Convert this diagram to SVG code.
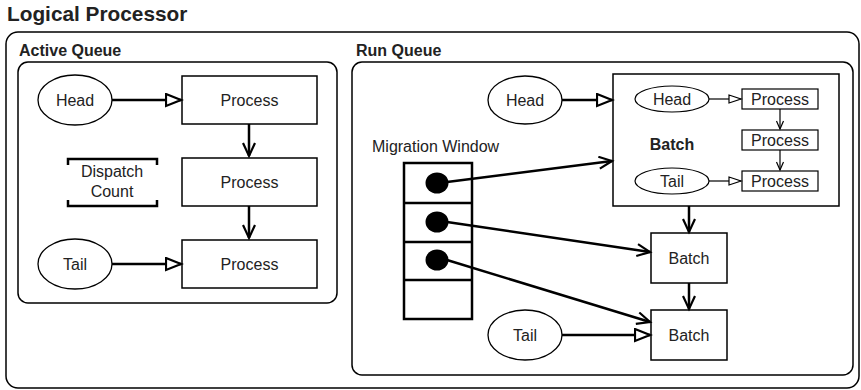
<svg xmlns="http://www.w3.org/2000/svg" width="861" height="390" viewBox="0 0 861 390">
<style>
text{font-family:"Liberation Sans",Arial,sans-serif;font-size:16px;fill:#222}
.b{font-weight:bold}
.c{text-anchor:middle}
.box{fill:#fff;stroke:#000;stroke-width:1.5}
.frame{fill:none;stroke:#000;stroke-width:1.5}
.ell{fill:#fff;stroke:#000;stroke-width:1.3}
.thin{fill:#fff;stroke:#000;stroke-width:1.2}
.a{fill:none;stroke:#000;stroke-width:2.5}
.s{fill:none;stroke:#000;stroke-width:1.2}
.mw{fill:#fff;stroke:#000;stroke-width:2.5}
</style>
<defs>
<marker id="tri" markerUnits="userSpaceOnUse" markerWidth="20" markerHeight="16" refX="16" refY="7" orient="auto"><path d="M1,1 L16,7 L1,13 z" fill="#fff" stroke="#000" stroke-width="2.2"/></marker>
<marker id="stick" markerUnits="userSpaceOnUse" markerWidth="18" markerHeight="16" refX="14" refY="7" orient="auto"><path d="M1,1 L14,7 L1,13" fill="none" stroke="#000" stroke-width="2.2"/></marker>
<marker id="tris" markerUnits="userSpaceOnUse" markerWidth="16" markerHeight="12" refX="13" refY="5" orient="auto"><path d="M1,1 L13,5 L1,9 z" fill="#fff" stroke="#000" stroke-width="1.2"/></marker>
<marker id="sticks" markerUnits="userSpaceOnUse" markerWidth="12" markerHeight="10" refX="9" refY="4.5" orient="auto"><path d="M1,1 L9,4.5 L1,8" fill="none" stroke="#000" stroke-width="1.2"/></marker>
</defs>
<text x="7" y="21" class="b" style="font-size:20.8px">Logical Processor</text>
<g id="logical-processor"><rect x="6" y="32" width="853" height="356" rx="12" class="frame"/></g>
<g id="active-queue">
<text x="19" y="56" class="b">Active Queue</text>
<rect x="18" y="62" width="319" height="241" rx="10" class="frame"/>
</g>
<g id="aq-head"><ellipse cx="75" cy="100" rx="37" ry="25" class="ell"/><text x="75" y="105.6" class="c">Head</text></g>
<g id="aq-process1"><rect x="182" y="76" width="135" height="48" class="box"/><text x="249.5" y="105.6" class="c">Process</text></g>
<g id="aq-process2"><rect x="182" y="158" width="135" height="48" class="box"/><text x="249.5" y="187.6" class="c">Process</text></g>
<g id="aq-process3"><rect x="182" y="240" width="135" height="48" class="box"/><text x="249.5" y="269.6" class="c">Process</text></g>
<g id="aq-tail"><ellipse cx="75" cy="264" rx="37" ry="25" class="ell"/><text x="75" y="269.6" class="c">Tail</text></g>
<g id="dispatch-count">
<path d="M68,165 V159 H157 V165 M68,200 V206 H157 V200" fill="none" stroke="#000" stroke-width="2.5"/>
<text x="112" y="177" class="c">Dispatch</text>
<text x="112" y="197" class="c">Count</text>
</g>
<g id="run-queue">
<text x="356" y="56" class="b">Run Queue</text>
<rect x="352" y="62" width="501" height="313" rx="10" class="frame"/>
</g>
<g id="rq-head"><ellipse cx="525" cy="100" rx="37" ry="24" class="ell"/><text x="525" y="105.6" class="c">Head</text></g>
<g id="batch-main">
<rect x="613" y="74" width="226" height="132" class="box"/>
<text x="672" y="149.6" class="b c">Batch</text>
</g>
<g id="b-head"><ellipse cx="672" cy="99" rx="37" ry="13" class="thin"/><text x="672" y="104.6" class="c">Head</text></g>
<g id="b-tail"><ellipse cx="672" cy="181" rx="37" ry="13" class="thin"/><text x="672" y="186.6" class="c">Tail</text></g>
<g id="b-process1"><rect x="742" y="89" width="76" height="20" class="thin"/><text x="780" y="104.6" class="c">Process</text></g>
<g id="b-process2"><rect x="742" y="130" width="76" height="20" class="thin"/><text x="780" y="145.6" class="c">Process</text></g>
<g id="b-process3"><rect x="742" y="171" width="76" height="20" class="thin"/><text x="780" y="186.6" class="c">Process</text></g>
<g id="batch1"><rect x="651" y="233" width="76" height="50" class="box"/><text x="689" y="263.6" class="c">Batch</text></g>
<g id="batch2"><rect x="651" y="310" width="76" height="50" class="box"/><text x="689" y="340.6" class="c">Batch</text></g>
<g id="rq-tail"><ellipse cx="525" cy="335" rx="37" ry="25" class="ell"/><text x="525" y="340.6" class="c">Tail</text></g>
<g id="migration-window">
<text x="372" y="152">Migration Window</text>
<rect x="404" y="163" width="68" height="156" class="mw"/>
<path d="M404,203 H472 M404,242 H472 M404,280 H472" fill="none" stroke="#000" stroke-width="2.5"/>
<ellipse cx="437" cy="183" rx="11.5" ry="10.5" fill="#000"/>
<ellipse cx="437" cy="222" rx="11.5" ry="10.5" fill="#000"/>
<ellipse cx="437" cy="260" rx="11.5" ry="10.5" fill="#000"/>
</g>
<g id="connectors">
<line x1="112" y1="100" x2="181" y2="100" class="a" marker-end="url(#tri)"/>
<line x1="112" y1="264" x2="181" y2="264" class="a" marker-end="url(#tri)"/>
<line x1="249" y1="124" x2="249" y2="156" class="a" marker-end="url(#stick)"/>
<line x1="249" y1="206" x2="249" y2="238" class="a" marker-end="url(#stick)"/>
<line x1="562" y1="100" x2="612" y2="100" class="a" marker-end="url(#tri)"/>
<line x1="709" y1="99" x2="741" y2="99" class="s" marker-end="url(#tris)"/>
<line x1="709" y1="181" x2="741" y2="181" class="s" marker-end="url(#tris)"/>
<line x1="780" y1="109" x2="780" y2="129" class="s" marker-end="url(#sticks)"/>
<line x1="780" y1="150" x2="780" y2="170" class="s" marker-end="url(#sticks)"/>
<line x1="689" y1="206" x2="689" y2="232" class="a" marker-end="url(#stick)"/>
<line x1="689" y1="283" x2="689" y2="309" class="a" marker-end="url(#stick)"/>
<line x1="562" y1="335" x2="650" y2="335" class="a" marker-end="url(#tri)"/>
<line x1="447" y1="182" x2="612" y2="161" class="a" marker-end="url(#stick)"/>
<line x1="447" y1="222" x2="650" y2="252" class="a" marker-end="url(#stick)"/>
<line x1="447" y1="260" x2="650" y2="322" class="a" marker-end="url(#stick)"/>
</g>
</svg>
